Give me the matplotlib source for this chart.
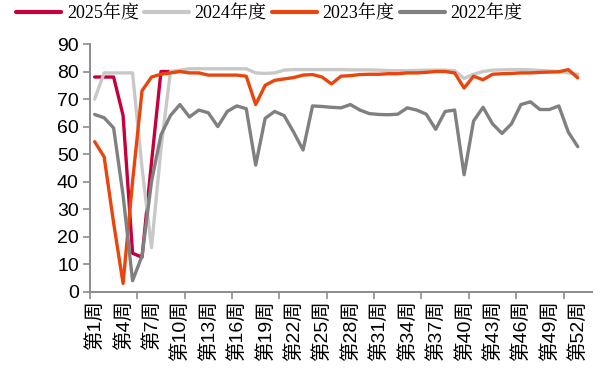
import matplotlib
matplotlib.use("Agg")
import matplotlib.pyplot as plt
from matplotlib.ticker import FixedLocator, NullFormatter

# Weekly operating-rate series (%), week 1 onward
weeks_total = 53
series_names = ["2025年度", "2024年度", "2023年度", "2022年度"]

y2025 = [78, 78, 78, 64, 14, 12.5, 47, 80, 80]

y2024 = [70, 79.5, 79.5, 79.5, 79.5, 45, 16, 52, 80, 80.5,
         81, 81, 81, 81, 81, 81, 81, 79.5, 79.3, 79.5,
         80.5, 80.7, 80.7, 80.7, 80.7, 80.7, 80.7, 80.6, 80.6, 80.6,
         80.5, 80.3, 80.3, 80.3, 80.4, 80.5, 80.5, 80.5, 80.3, 77.5,
         79, 80, 80.5, 80.6, 80.7, 80.7, 80.6, 80.4, 80.2, 80,
         79.5, 79]

y2023 = [54.5, 49, 25, 3, 40, 73, 78, 79, 79.5, 80,
         79.5, 79.5, 78.7, 78.7, 78.7, 78.7, 78.3, 68, 75, 76.8,
         77.3, 77.8, 78.7, 78.9, 78, 75.5, 78.3, 78.5, 78.9, 79,
         79, 79.2, 79.2, 79.5, 79.5, 79.7, 80, 80, 79.5, 74,
         78.3, 77, 79, 79.2, 79.3, 79.5, 79.5, 79.7, 79.8, 79.9,
         80.7, 77.7]

y2022 = [64.4, 63.2, 59.5, 35, 4, 13, 40, 57, 64, 68,
         63.5, 66, 65, 60, 65.5, 67.5, 66.5, 46, 63, 65.5,
         64, 58, 51.5, 67.5, 67.3, 67, 66.8, 68, 66, 64.7,
         64.4, 64.3, 64.5, 66.8, 66, 64.5, 59, 65.5, 66, 42.5,
         62, 67, 61, 57.5, 61, 68, 69, 66.2, 66.2, 67.5,
         58, 52.7]

label_weeks = list(range(1, 53, 3))
tick_labels = [f"第{w}周" for w in label_weeks]
y_ticks = list(range(0, 91, 10))

colors = ["#C5003C", "#C8C8C8", "#E8460C", "#808080"]

fig = plt.figure(figsize=(6.16, 3.71), dpi=100)
ax = fig.add_axes([0.146, 0.2137, 0.815, 0.6677])

for name, vals, col in zip(series_names, [y2025, y2024, y2023, y2022], colors):
    xs = list(range(1, len(vals) + 1))
    ax.plot(xs, vals, color=col, lw=2.4, label=name,
            solid_joinstyle="round", solid_capstyle="round")

ax.set_xlim(0.5, weeks_total + 0.5)
ax.set_ylim(0, 90)

axis_col = "#8C8C8C"
for side in ["top", "right"]:
    ax.spines[side].set_visible(False)
for side in ["left", "bottom"]:
    ax.spines[side].set_color(axis_col)
    ax.spines[side].set_linewidth(1.4)

# y axis
ax.set_yticks(y_ticks)
ax.tick_params(axis="y", direction="out", length=5, width=1.2, color=axis_col,
               labelsize=14, pad=3)
for t in ax.get_yticklabels():
    t.set_fontfamily(["Liberation Sans", "DejaVu Sans"])

# x axis: tick marks at category boundaries every 5 weeks, labels every 3 weeks
ax.xaxis.set_major_locator(FixedLocator([0.5 + 5 * i for i in range(11)]))
ax.xaxis.set_major_formatter(NullFormatter())
ax.tick_params(axis="x", which="major", direction="out", length=5, width=1.2,
               color=axis_col)
ax.xaxis.set_minor_locator(FixedLocator(label_weeks))
ax.set_xticklabels(tick_labels, minor=True, rotation=90,
                   fontfamily=["Liberation Sans", "Noto Sans CJK SC"],
                   fontsize=14)
ax.tick_params(axis="x", which="minor", length=0, pad=6)

leg = fig.legend(loc="upper left", bbox_to_anchor=(0.0, 1.03), ncol=4,
                 frameon=False, handlelength=2.5, handletextpad=0.3,
                 columnspacing=0.3, fontsize=13)
for line in leg.get_lines():
    line.set_linewidth(3)
for t in leg.get_texts():
    t.set_fontfamily(["Liberation Serif", "Noto Serif CJK SC", "Noto Sans CJK SC"])

fig.savefig("out.png", dpi=100)
